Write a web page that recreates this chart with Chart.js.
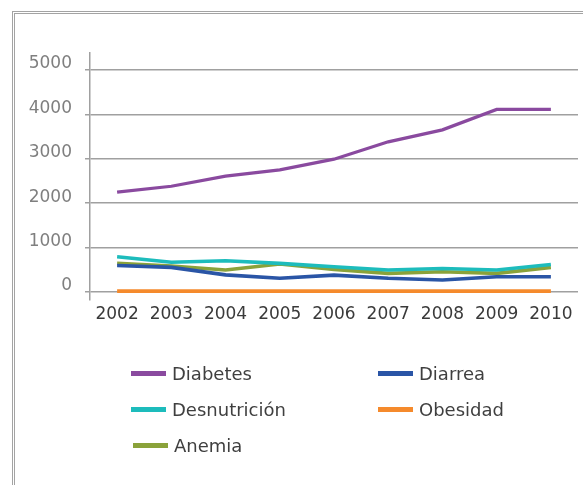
<!DOCTYPE html>
<html>
<head>
<meta charset="utf-8">
<script src="https://cdn.jsdelivr.net/npm/chart.js@4"></script>
<style>
  html, body { margin: 0; padding: 0; background: #fff; }
  body { width: 583px; height: 485px; position: relative; overflow: hidden; font-family: "DejaVu Sans", sans-serif; }
  #frame { position: absolute; left: 12px; top: 11px; width: 700px; height: 600px; border-left: 3px double #a3a3a3; border-top: 3px double #a3a3a3; }
  #wrap { position: absolute; left: 0; top: 0; width: 583px; height: 485px; }
  #legend { position: absolute; left: 0; top: 0; width: 583px; height: 485px; pointer-events: none; }
  .item { position: absolute; display: flex; align-items: center; height: 24px; color: #3f3f3f; font-size: 18px; }
  .sw { width: 35px; height: 5px; margin-right: 6px; }
</style>
</head>
<body>
<div id="frame"></div>
<div id="wrap"><canvas id="c" width="583" height="485"></canvas></div>
<div id="legend"></div>
<script>
const years = ['2002', '2003', '2004', '2005', '2006', '2007', '2008', '2009', '2010'];
const yTicks = [0, 1000, 2000, 3000, 4000, 5000];

const diabetes     = [2250, 2380, 2610, 2750, 2990, 3380, 3650, 4110, 4110];
const diarrea      = [595, 555, 385, 310, 380, 310, 270, 345, 345];
const desnutricion = [795, 670, 705, 645, 570, 495, 530, 495, 620];
const obesidad     = [20, 20, 20, 20, 20, 20, 20, 20, 20];
const anemia       = [645, 585, 495, 630, 510, 420, 455, 420, 555];

const seriesNames  = ['Diabetes', 'Diarrea', 'Desnutrición', 'Obesidad', 'Anemia'];
const seriesColors = ['#8a4a9f', '#2a55a6', '#1dbcbc', '#f58a2c', '#8aa23a'];
const seriesValues = [diabetes, diarrea, desnutricion, obesidad, anemia];

const datasets = seriesNames.map((name, i) => ({
  label: name,
  data: seriesValues[i],
  borderColor: seriesColors[i],
  backgroundColor: seriesColors[i],
  borderWidth: i === 0 ? 3.2 : 3.6,
  pointRadius: 0,
  tension: 0,
  fill: false
}));

const chart = new Chart(document.getElementById('c'), {
  type: 'line',
  data: { labels: years, datasets },
  options: {
    responsive: false,
    animation: false,
    layout: { padding: { top: 53, right: 5, bottom: 0, left: 0 } },
    plugins: { legend: { display: false }, tooltip: { enabled: false } },
    scales: {
      x: {
        offset: true,
        grid: { display: false, drawTicks: false },
        border: { display: false },
        ticks: { color: '#3a3a3a', font: { family: 'DejaVu Sans', size: 17 }, padding: 4, maxRotation: 0, autoSkip: false },
        afterFit: s => { s.height = 185; }
      },
      y: {
        min: -180,
        max: 5380,
        afterBuildTicks: s => { s.ticks = yTicks.map(v => ({ value: v })); },
        grid: { color: '#a0a0a0', lineWidth: 1.5, drawTicks: true, tickLength: 5 },
        border: { display: true, color: '#a0a0a0', width: 1.5 },
        ticks: {
          color: '#7f7f7f', font: { family: 'DejaVu Sans', size: 17 }, padding: 13, labelOffset: -6,
          callback: v => String(v)
        },
        afterFit: s => { s.width = 90; }
      }
    }
  }
});

// Legend laid out in two columns from the chart's datasets
const slots = [[131, 361], [378, 361], [131, 397], [378, 397], [133, 433]];
const legend = document.getElementById('legend');
chart.data.datasets.forEach((ds, i) => {
  const item = document.createElement('div');
  item.className = 'item';
  item.style.left = slots[i][0] + 'px';
  item.style.top = slots[i][1] + 'px';
  const sw = document.createElement('span');
  sw.className = 'sw';
  sw.style.background = ds.borderColor;
  const tx = document.createElement('span');
  tx.textContent = ds.label;
  item.appendChild(sw);
  item.appendChild(tx);
  legend.appendChild(item);
});
</script>
</body>
</html>
